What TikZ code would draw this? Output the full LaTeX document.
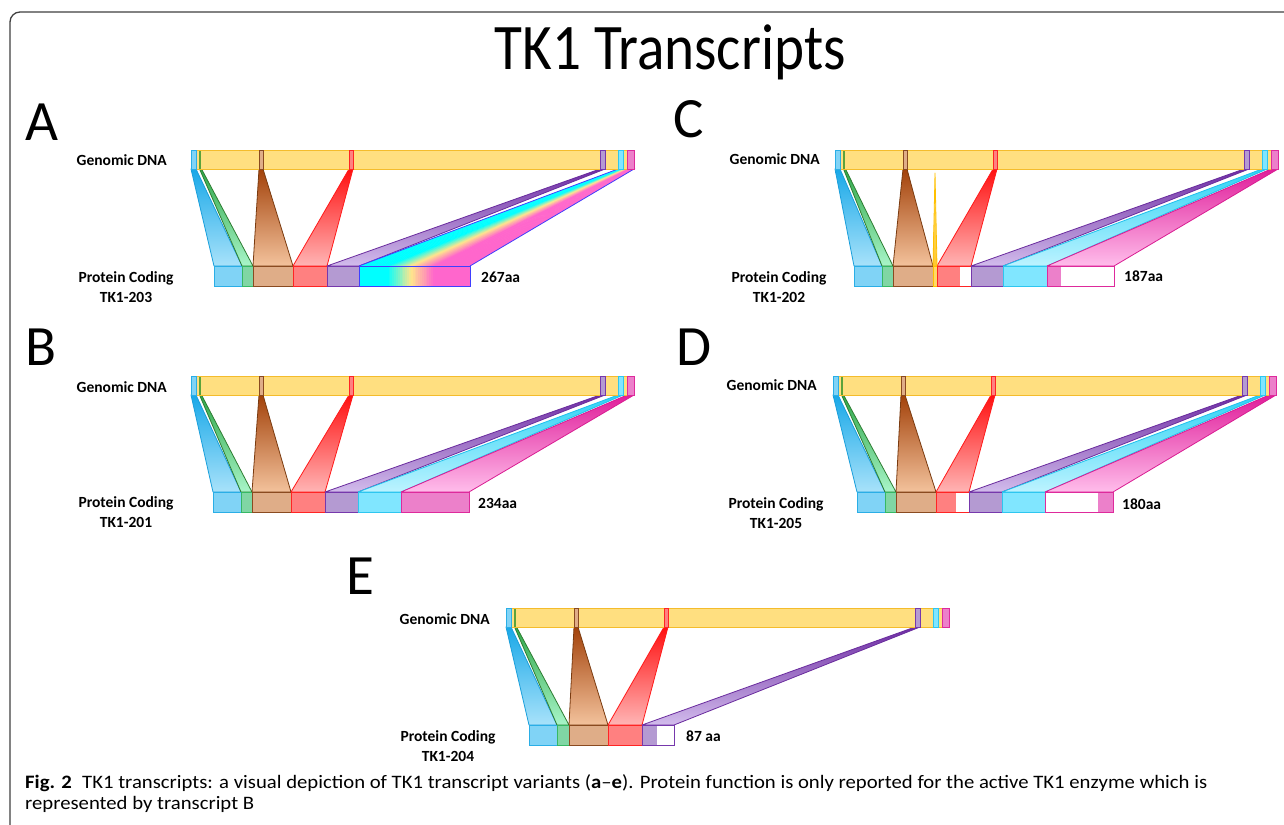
\documentclass[tikz,border=0pt]{standalone}
\usepackage{fontspec}
\setmainfont{Carlito}
\usetikzlibrary{calc}
\pgfdeclarelayer{bg}
\pgfsetlayers{bg,main}
\definecolor{gbar}{HTML}{FFDF80}\definecolor{gbard}{HTML}{F4BC2C}
\definecolor{lbf}{HTML}{80D3F6}\definecolor{lbd}{HTML}{2AAEE6}
\definecolor{grf}{HTML}{80D6A4}\definecolor{grd}{HTML}{36B864}\definecolor{grl}{HTML}{5BA33B}
\definecolor{brf}{HTML}{DFAD88}\definecolor{brd}{HTML}{8A4A20}
\definecolor{rdf}{HTML}{FF8080}\definecolor{rdd}{HTML}{FF2424}
\definecolor{puf}{HTML}{B49AD2}\definecolor{pud}{HTML}{7638AC}
\definecolor{cyf}{HTML}{80E6FF}\definecolor{cyd}{HTML}{2EC6F0}
\definecolor{pkf}{HTML}{EC80CA}\definecolor{pkd}{HTML}{DE2A9C}
\definecolor{ylf}{HTML}{FFD966}\definecolor{yld}{HTML}{FFC000}
\definecolor{rbcy}{HTML}{00FFFF}\definecolor{rbye}{HTML}{FFE68C}\definecolor{rbpk}{HTML}{FF66CC}\definecolor{rbd}{HTML}{3F3FFF}
\definecolor{lbt}{HTML}{18A8E8}\definecolor{lbb}{HTML}{A8E2FA}\definecolor{lbo}{HTML}{1A9FDB}
\definecolor{grt}{HTML}{2FA84A}\definecolor{grb}{HTML}{A8F5C8}\definecolor{gro}{HTML}{2E7D32}
\definecolor{brt}{HTML}{A3420A}\definecolor{brb}{HTML}{F3C29C}\definecolor{bro}{HTML}{7A3B10}
\definecolor{rdt}{HTML}{FF1010}\definecolor{rdb}{HTML}{FFB5B5}\definecolor{rdo}{HTML}{FF1A1A}
\definecolor{put}{HTML}{6E2DA3}\definecolor{pub}{HTML}{D2BCEC}\definecolor{puo}{HTML}{6A2C9E}
\definecolor{cyt}{HTML}{2ED3F5}\definecolor{cyb}{HTML}{BDF3FF}\definecolor{cyo}{HTML}{1FC0EC}
\definecolor{pkt}{HTML}{E01E9A}\definecolor{pkb}{HTML}{FFBDEB}\definecolor{pko}{HTML}{D91C92}
\definecolor{ylt}{HTML}{FFE070}\definecolor{ylb}{HTML}{FFC830}

\newcommand\seg[6]{\node[segbase,#6,minimum width={(#3-#2)*1pt},minimum height={(#5-#4)*1pt},anchor=north west] (#1) at (#2,#4) {};}
\newcommand\conn[3]{\path[#3] (#1.south west) -- (#1.south east) -- (#2.north east) -- (#2.north west) -- cycle;}
\newcommand\partfill[5]{\fill[#4] (#2,0 |- #1.north) rectangle (#3,0 |- #1.south);
  \draw[#5,line width=0.9pt] (#1.north west) rectangle (#1.south east);}
\newcommand\rbcolor[1]{%
  \ifdim#1pt<0.25pt \colorlet{rbc}{rbcy}%
  \else\ifdim#1pt<0.46pt \pgfmathsetmacro\pp{(#1-0.25)/0.21*100}\colorlet{rbc}{rbye!\pp!rbcy}%
  \else\ifdim#1pt<0.67pt \pgfmathsetmacro\pp{(#1-0.46)/0.21*100}\colorlet{rbc}{rbpk!\pp!rbye}%
  \else\colorlet{rbc}{rbpk}\fi\fi\fi}
\newcommand\fan[4]{%
  \foreach \i in {0,...,59}{%
    \pgfmathsetmacro\f{\i/60}%
    \pgfmathsetmacro\g{min(1,(\i+1.6)/60)}%
    \rbcolor{\f}%
    \fill[rbc] ($(#1)!\f!(#2)$) -- ($(#1)!\g!(#2)$) -- ($(#3)!\g!(#4)$) -- ($(#3)!\f!(#4)$) -- cycle;}}
\newcommand\genomic[3]{%
  \begin{scope}[shift={(#2,#3)}]
  \seg{#1-bar}{191}{634}{150}{169}{fill=gbar,draw=gbard}
  \seg{#1-g1}{191}{196}{150}{169}{fill=lbf,draw=lbd}
  \seg{#1-g2}{199.3}{201.3}{150.5}{168.5}{fill=grl}
  \seg{#1-g3}{259}{263}{150}{169}{fill=brf,draw=brd}
  \seg{#1-g4}{349}{353}{150}{169}{fill=rdf,draw=rdd}
  \seg{#1-g5}{600}{605}{150}{169}{fill=puf,draw=pud}
  \seg{#1-g6}{618}{623}{150}{169}{fill=cyf,draw=cyd}
  \seg{#1-g7}{627}{634}{150}{169}{fill=pkf,draw=pkd}
  \end{scope}}
\newcommand\basicconn[1]{%
  \conn{#1-g1}{#1-p1}{lbc}\conn{#1-g2}{#1-p2}{grc}\conn{#1-g3}{#1-p3}{brc}
  \conn{#1-g4}{#1-p4}{rdc}\conn{#1-g5}{#1-p5}{puc}}

\begin{document}
\begin{tikzpicture}[x=1pt,y=-1pt,
  segbase/.style={rectangle,inner sep=0pt,outer sep=0pt,line width=0.9pt},
  lbs/.style={fill=lbf,draw=lbd}, grs/.style={fill=grf,draw=grd},
  brs/.style={fill=brf,draw=brd}, rds/.style={fill=rdf,draw=rdd},
  pus/.style={fill=puf,draw=pud}, cys/.style={fill=cyf,draw=cyd},
  pks/.style={fill=pkf,draw=pkd}, yls/.style={fill=ylf,draw=yld},
  cbase/.style={line width=0.8pt,line join=round},
  lbc/.style={cbase,top color=lbt,bottom color=lbb,draw=lbo},
  grc/.style={cbase,top color=grt,bottom color=grb,draw=gro},
  brc/.style={cbase,top color=brt,bottom color=brb,draw=bro},
  rdc/.style={cbase,top color=rdt,bottom color=rdb,draw=rdo},
  puc/.style={cbase,top color=put,bottom color=pub,draw=puo},
  cyc/.style={cbase,top color=cyt,bottom color=cyb,draw=cyo},
  pkc/.style={cbase,top color=pkt,bottom color=pkb,draw=pko},
  ylc/.style={cbase,top color=ylt,bottom color=ylb,draw=yld},
  lab/.style={font=\bfseries\fontsize{15.5}{20}\selectfont,inner sep=0pt},
  pc/.style={lab,align=center},
  letter/.style={font=\fontsize{57}{57}\selectfont,inner sep=0pt,anchor=base west},
  capf/.style={anchor=base west,inner sep=0pt,font=\fontsize{19}{22}\selectfont}]
\useasboundingbox (0,0) rectangle (1284,824);
\clip (0,0) rectangle (1284,824);
\draw[line width=1.3pt,black!75,rounded corners=10pt] (10,900) -- (10,12) -- (1300,12);

\node[anchor=base,inner sep=0pt,font=\fontsize{65}{65}\selectfont] (title) at (670,70) {\scalebox{0.88}[1]{TK1 Transcripts}};

% panel letters
\node[letter] (LA) at (25,140) {A};
\node[letter] (LB) at (25,365) {B};
\node[letter] (LC) at (673,138) {C};
\node[letter] (LD) at (676,365) {D};
\node[letter] (LE) at (346,594) {E};

% genomic bars
\genomic{a}{0}{0}
\genomic{b}{0}{226}
\genomic{c}{644}{0}
\genomic{d}{642}{226}
\genomic{e}{315}{458}

% ---------- A protein ----------
\seg{a-p1}{214}{242}{266}{286}{lbs}
\seg{a-p2}{242}{253}{266}{286}{grs}
\seg{a-p3}{253}{293}{266}{286}{brs}
\seg{a-p4}{293}{327}{266}{286}{rds}
\seg{a-p5}{327}{359}{266}{286}{pus}
\seg{a-p6}{359}{470}{266}{286}{draw=rbd}
\fan{a-p6.north west}{a-p6.north east}{a-p6.south west}{a-p6.south east}
\draw[rbd,line width=0.9pt] (a-p6.north west) rectangle (a-p6.south east);

% ---------- B protein ----------
\seg{b-p1}{213}{241}{492}{512}{lbs}
\seg{b-p2}{241}{252}{492}{512}{grs}
\seg{b-p3}{252}{291}{492}{512}{brs}
\seg{b-p4}{291}{325}{492}{512}{rds}
\seg{b-p5}{325}{358}{492}{512}{pus}
\seg{b-p6}{358}{401}{492}{512}{cys}
\seg{b-p7}{401}{469}{492}{512}{pks}

% ---------- C protein ----------
\seg{c-p1}{854}{882}{266}{286}{lbs}
\seg{c-p2}{882}{893}{266}{286}{grs}
\seg{c-p3}{893}{933}{266}{286}{brs}
\seg{c-py}{933}{937}{266}{286}{yls}
\seg{c-p4}{937}{971}{266}{286}{fill=white,draw=rdd}
\partfill{c-p4}{937}{960}{rdf}{rdd}
\seg{c-p5}{971}{1003}{266}{286}{pus}
\seg{c-p6}{1003}{1047}{266}{286}{cys}
\seg{c-p7}{1047}{1114}{266}{286}{fill=white,draw=pkd}
\partfill{c-p7}{1047}{1061}{pkf}{pkd}
\coordinate (c-ys) at (935,173);

% ---------- D protein ----------
\seg{d-p1}{857}{885}{492}{512}{lbs}
\seg{d-p2}{885}{896}{492}{512}{grs}
\seg{d-p3}{896}{936}{492}{512}{brs}
\seg{d-p4}{936}{969}{492}{512}{fill=white,draw=rdd}
\partfill{d-p4}{936}{956}{rdf}{rdd}
\seg{d-p5}{969}{1002}{492}{512}{pus}
\seg{d-p6}{1002}{1045}{492}{512}{cys}
\seg{d-p7}{1045}{1113}{492}{512}{fill=white,draw=pkd}
\partfill{d-p7}{1098}{1113}{pkf}{pkd}

% ---------- E protein ----------
\seg{e-p1}{529}{557}{725}{745}{lbs}
\seg{e-p2}{557}{569}{725}{745}{grs}
\seg{e-p3}{569}{608}{725}{745}{brs}
\seg{e-p4}{608}{642}{725}{745}{rds}
\seg{e-p5}{642}{674}{725}{745}{fill=white,draw=pud}
\partfill{e-p5}{642}{657}{puf}{pud}

% ---------- connectors ----------
\begin{pgfonlayer}{bg}
\fill[white] (0,0) rectangle (1284,824);
\basicconn{a}
\fan{a-p6.north west}{a-p6.north east}{a-g6.south west}{a-g7.south east}
\draw[rbd,line width=0.8pt] (a-p6.north west) -- (a-g6.south west) -- (a-g7.south east) -- (a-p6.north east);
\basicconn{b}\conn{b-g6}{b-p6}{cyc}\conn{b-g7}{b-p7}{pkc}
\basicconn{c}\conn{c-g6}{c-p6}{cyc}\conn{c-g7}{c-p7}{pkc}
\path[ylc] (c-ys) -- (c-py.north east) -- (c-py.north west) -- cycle;
\basicconn{d}\conn{d-g6}{d-p6}{cyc}\conn{d-g7}{d-p7}{pkc}
\basicconn{e}
\end{pgfonlayer}

% ---------- labels ----------
\node[lab,anchor=east] (a-gl) at (167,160) {Genomic DNA};
\node[pc] (a-pl) at (126,287) {Protein Coding\\TK1-203};
\node[lab,anchor=west] (a-aa) at (481,277) {267aa};
\node[lab,anchor=east] (b-gl) at (167,387) {Genomic DNA};
\node[pc] (b-pl) at (126,512) {Protein Coding\\TK1-201};
\node[lab,anchor=west] (b-aa) at (478,503) {234aa};
\node[lab,anchor=east] (c-gl) at (820,159) {Genomic DNA};
\node[pc] (c-pl) at (779,287) {Protein Coding\\TK1-202};
\node[lab,anchor=west] (c-aa) at (1124,276) {187aa};
\node[lab,anchor=east] (d-gl) at (817,385) {Genomic DNA};
\node[pc] (d-pl) at (776,513) {Protein Coding\\TK1-205};
\node[lab,anchor=west] (d-aa) at (1122,504) {180aa};
\node[lab,anchor=east] (e-gl) at (490,619) {Genomic DNA};
\node[pc] (e-pl) at (448,746) {Protein Coding\\TK1-204};
\node[lab,anchor=west] (e-aa) at (686,736) {87 aa};

% caption
\node[capf] (cap1) at (25,788) {\scalebox{1.09}[1]{\textbf{Fig. 2}\hspace{0.5em}TK1 transcripts: a visual depiction of TK1 transcript variants (\textbf{a}–\textbf{e}). Protein function is only reported for the active TK1 enzyme which is}};
\node[capf] (cap2) at (25,809) {\scalebox{1.09}[1]{represented by transcript B}};
\end{tikzpicture}
\end{document}
